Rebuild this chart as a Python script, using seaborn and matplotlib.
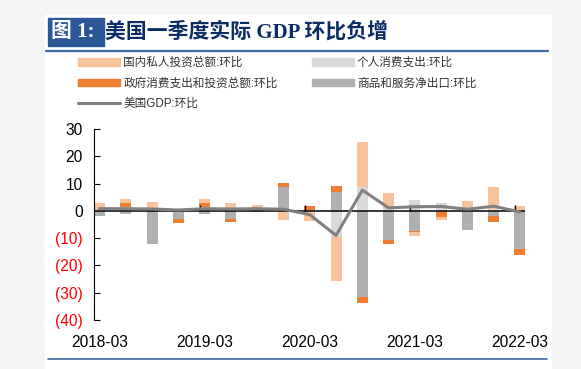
import numpy as np
import pandas as pd
import seaborn as sns
import matplotlib.pyplot as plt
from matplotlib.patches import Rectangle, Patch
from matplotlib.lines import Line2D
from matplotlib.ticker import FuncFormatter

# data (quarterly, % qoq)
quarters = ['2018-03', '2018-06', '2018-09', '2018-12',
            '2019-03', '2019-06', '2019-09', '2019-12',
            '2020-03', '2020-06', '2020-09', '2020-12',
            '2021-03', '2021-06', '2021-09', '2021-12', '2022-03']
pce = [0.3, 1.5, 0.5, 0.2, 1.5, 0.6, 0.6, 0.4, -0.5, -9.6, 8.6, 0.5, 3.9, 2.9, 0.3, 0.6, 0.3]
net_exports = [-2.0, -1.0, -12.0, -3.1, -1.0, -3.1, -0.5, 8.3, 0.2, 7.0, -31.7, -10.8, -7.2, -0.3, -6.9, -2.0, -13.9]
government = [0.0, 1.5, 0.3, -1.3, 1.5, -1.0, 0.2, 1.5, 1.6, 2.2, -2.1, -1.5, -0.6, -2.1, 0.2, -2.1, -2.1]
investment = [2.4, 1.2, 2.3, 0.6, 1.5, 2.1, 1.3, -3.4, -3.2, -16.2, 16.6, 6.1, -1.5, -1.0, 3.2, 8.3, 1.4]
gdp = [0.8, 0.8, 0.7, 0.3, 0.8, 0.7, 0.8, 0.6, -1.4, -9.0, 7.6, 1.1, 1.5, 1.6, 0.6, 1.7, -0.4]

names = {
    'inv': '国内私人投资总额:环比',
    'pce': '个人消费支出:环比',
    'gov': '政府消费支出和投资总额:环比',
    'nx': '商品和服务净出口:环比',
    'gdp': '美国GDP:环比',
}
colors = {'inv': '#F8C29C', 'pce': '#D9D9D9', 'gov': '#ED7D31', 'nx': '#B0B0B0'}

df = pd.DataFrame({'quarter': quarters, 'pce': pce, 'nx': net_exports,
                   'gov': government, 'inv': investment, 'gdp': gdp})
df['idx'] = np.arange(len(quarters))

sns.set_theme(style='white')
plt.rcParams['font.family'] = ['Liberation Sans', 'Noto Sans CJK SC']

W, H = 581, 369
fig = plt.figure(figsize=(W / 100, H / 100), dpi=100)
fig.patch.set_facecolor('#F4F4F4')
fig.add_artist(Rectangle((45 / W, 0), (551 - 45) / W, 1 - 15 / H,
                         transform=fig.transFigure, color='white', zorder=-10))

# title block
fig.add_artist(Rectangle((48 / W, 1 - 46 / H), (104 - 48) / W, 28 / H,
                         transform=fig.transFigure, color='#2B5797', zorder=1))
fig.text(51 / W, 1 - 32 / H, '图 1:', color='white', fontsize=15, fontweight='bold',
         family=['Liberation Serif', 'Noto Sans CJK SC'], va='center', ha='left')
fig.text(105 / W, 1 - 32 / H, '美国一季度实际 GDP 环比负增', color='#0C2C66', fontsize=15,
         fontweight='bold', family=['Liberation Serif', 'Noto Sans CJK SC'],
         va='center', ha='left')
fig.add_artist(Line2D([46 / W, 548 / W], [1 - 50.5 / H] * 2, transform=fig.transFigure,
                      color='#3E6CA8', lw=1.6))
fig.add_artist(Line2D([48 / W, 547 / W], [1 - 359 / H] * 2, transform=fig.transFigure,
                      color='#3E6CA8', lw=1.2))

ax = fig.add_axes([94 / W, 1 - 320 / H, (525 - 94) / W, (320 - 129) / H])
ax.set_facecolor('none')

# stacked bars, positives and negatives stacked separately
pos_base = np.zeros(len(df))
neg_base = np.zeros(len(df))
for key in ['pce', 'nx', 'gov', 'inv']:
    vals = df[key].to_numpy()
    bottom = np.where(vals >= 0, pos_base, neg_base)
    ax.bar(df['idx'], vals, bottom=bottom, width=0.42, color=colors[key],
           linewidth=0, zorder=2)
    pos_base += np.clip(vals, 0, None)
    neg_base += np.clip(vals, None, 0)

ax.axhline(0, color='black', lw=1.1, zorder=3)
ax.vlines(np.arange(4, len(df), 4) - 0.18, 0, 2.2, color='black', lw=1, zorder=3)
sns.lineplot(data=df, x='idx', y='gdp', ax=ax, color='#808080', lw=2.2, zorder=4)

ax.set_xlim(-0.21, len(df) - 0.81)
ax.set_ylim(-40, 30)
ax.set_yticks(np.arange(-40, 31, 10))
ax.yaxis.set_major_formatter(FuncFormatter(lambda v, p: f'({abs(v):.0f})' if v < 0 else f'{v:.0f}'))
for lab, v in zip(ax.get_yticklabels(), ax.get_yticks()):
    lab.set_color('#FF0000' if v < 0 else 'black')
ax.tick_params(axis='y', direction='in', length=4, width=0.8, color='black',
               labelsize=11.2, pad=8, left=True)
ax.set_xticks(df['idx'][::4])
ax.set_xticklabels(df['quarter'][::4])
ax.tick_params(axis='x', length=0, labelsize=11.2, pad=11, labelcolor='black')
ax.set_xlabel('')
ax.set_ylabel('')
for s in ['top', 'right', 'bottom']:
    ax.spines[s].set_visible(False)
ax.spines['left'].set_color('black')
ax.spines['left'].set_linewidth(0.8)

handles = [Patch(color=colors['inv']), Patch(color=colors['gov']),
           Line2D([], [], color='#808080', lw=2.2),
           Patch(color=colors['pce']), Patch(color=colors['nx'])]
labels = [names['inv'], names['gov'], names['gdp'], names['pce'], names['nx']]
fig.legend(handles, labels, loc='upper left', bbox_to_anchor=(78 / W, 1 - 57 / H),
           ncol=2, frameon=False, fontsize=8.4, handlelength=3.6, handleheight=0.62,
           handletextpad=0.3, columnspacing=2.9, labelspacing=0.72, borderpad=0,
           borderaxespad=0, labelcolor='#333333')

fig.savefig('out.png', dpi=100, facecolor=fig.get_facecolor())
